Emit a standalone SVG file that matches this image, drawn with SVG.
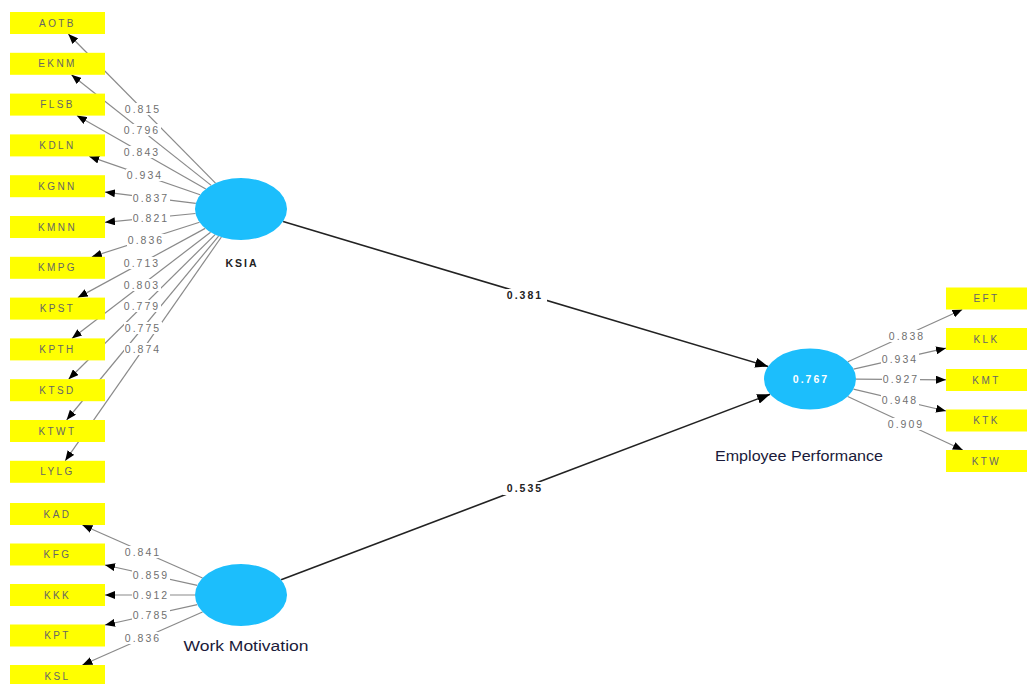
<svg xmlns="http://www.w3.org/2000/svg" width="1029" height="684" viewBox="0 0 1029 684">
  <style>
    .ind rect { fill: #ffff00; }
    .ind text { font-family: "Liberation Sans", Arial, sans-serif; font-size: 10px; letter-spacing: 2.4px; fill: #666; text-anchor: middle; dominant-baseline: central; }
    .lv ellipse { fill: #1cbefc; }
    .lvname { font-family: "Liberation Sans", Arial, sans-serif; font-size: 14px; fill: #1a1a3a; text-anchor: middle; }
    .lvshort { font-family: "Liberation Sans", Arial, sans-serif; font-size: 10.5px; font-weight: bold; letter-spacing: 2px; fill: #222; text-anchor: middle; }
    .r2 { font-family: "Liberation Sans", Arial, sans-serif; font-size: 10.5px; font-weight: bold; letter-spacing: 2px; fill: #fff; text-anchor: middle; dominant-baseline: central; }
    .load line { stroke: #8a8a8a; stroke-width: 1.2; marker-end: url(#ah); }
    .path line { stroke: #222; stroke-width: 1.6; marker-end: url(#ahb); }
    .lbl rect { fill: #fff; }
    .lbl text { font-family: "Liberation Sans", Arial, sans-serif; font-size: 10.5px; letter-spacing: 2px; fill: #707070; text-anchor: middle; dominant-baseline: central; }
    .plbl text { font-family: "Liberation Sans", Arial, sans-serif; font-size: 10.5px; font-weight: bold; letter-spacing: 2px; fill: #222; text-anchor: middle; dominant-baseline: central; }
    .plbl rect { fill: #fff; }
  </style>
  <defs>
    <marker id="ah" markerUnits="userSpaceOnUse" markerWidth="10" markerHeight="8" refX="10" refY="4" orient="auto">
      <path d="M0,0 L10,4 L0,8 z" fill="#000"/>
    </marker>
    <marker id="ahb" markerUnits="userSpaceOnUse" markerWidth="13" markerHeight="10" refX="13" refY="5" orient="auto">
      <path d="M0,0 L13,5 L0,10 z" fill="#000"/>
    </marker>
  </defs>
  <rect width="1029" height="684" fill="#fff"/>

  <!-- connectors -->
  <g id="connectors">
    <g class="load">
      <line x1="215.5" y1="183.2" x2="68.3" y2="34"/>
      <line x1="211.2" y1="185.4" x2="71.4" y2="74.8"/>
      <line x1="205.8" y1="189" x2="76.8" y2="115.6"/>
      <line x1="200.1" y1="194.8" x2="89.2" y2="156.4"/>
      <line x1="195.8" y1="203.4" x2="105" y2="192.1"/>
      <line x1="195.5" y1="213.5" x2="105" y2="222.3"/>
      <line x1="199.5" y1="222.3" x2="91.8" y2="256.8"/>
      <line x1="205.2" y1="228.4" x2="77.8" y2="297.6"/>
      <line x1="210.6" y1="232.3" x2="71.9" y2="338.4"/>
      <line x1="215.1" y1="234.6" x2="68.6" y2="379.2"/>
      <line x1="218.6" y1="236.1" x2="66.6" y2="420"/>
      <line x1="221.4" y1="237" x2="65.2" y2="460.8"/>

      <line x1="202.5" y1="578" x2="82.4" y2="525"/>
      <line x1="197.3" y1="585.3" x2="105" y2="565"/>
      <line x1="195" y1="595" x2="105" y2="595"/>
      <line x1="197.3" y1="604.7" x2="105" y2="625"/>
      <line x1="202.5" y1="612" x2="82.4" y2="665"/>

      <line x1="847.9" y1="361.7" x2="962.4" y2="309.5"/>
      <line x1="853.5" y1="369.1" x2="946" y2="348.2"/>
      <line x1="856" y1="379.2" x2="946" y2="379.8"/>
      <line x1="853.4" y1="389.2" x2="946" y2="411"/>
      <line x1="847.7" y1="396.5" x2="962.8" y2="450"/>
    </g>
    <g class="path">
      <line x1="283.1" y1="221.6" x2="768.1" y2="366.5"/>
      <line x1="281.1" y1="579.8" x2="770.1" y2="394.2"/>
    </g>

    <!-- outer loadings -->
    <g class="lbl">
      <rect x="124" y="103" width="38" height="12"/><text x="143" y="109">0.815</text>
      <rect x="123" y="124" width="38" height="12"/><text x="142" y="130">0.796</text>
      <rect x="123" y="146" width="38" height="12"/><text x="142" y="152">0.843</text>
      <rect x="126" y="169" width="38" height="12"/><text x="145" y="175">0.934</text>
      <rect x="132" y="192" width="38" height="12"/><text x="151" y="198">0.837</text>
      <rect x="132" y="212" width="38" height="12"/><text x="151" y="218">0.821</text>
      <rect x="127" y="234" width="38" height="12"/><text x="146" y="240">0.836</text>
      <rect x="123" y="257" width="38" height="12"/><text x="142" y="263">0.713</text>
      <rect x="123" y="279" width="38" height="12"/><text x="142" y="285">0.803</text>
      <rect x="123" y="300" width="38" height="12"/><text x="142" y="306">0.779</text>
      <rect x="124" y="322" width="38" height="12"/><text x="143" y="328">0.775</text>
      <rect x="124" y="343" width="38" height="12"/><text x="143" y="349">0.874</text>

      <rect x="124" y="546" width="38" height="12"/><text x="143" y="552">0.841</text>
      <rect x="132" y="569" width="38" height="12"/><text x="151" y="575">0.859</text>
      <rect x="132" y="589" width="38" height="12"/><text x="151" y="595">0.912</text>
      <rect x="132" y="609" width="38" height="12"/><text x="151" y="615">0.785</text>
      <rect x="124" y="632" width="38" height="12"/><text x="143" y="638">0.836</text>

      <rect x="888" y="330" width="38" height="12"/><text x="907" y="336">0.838</text>
      <rect x="881" y="353" width="38" height="12"/><text x="900" y="359">0.934</text>
      <rect x="882" y="373" width="38" height="12"/><text x="901" y="379">0.927</text>
      <rect x="881" y="394" width="38" height="12"/><text x="900" y="400">0.948</text>
      <rect x="887" y="418" width="38" height="12"/><text x="906" y="424">0.909</text>
    </g>
    <!-- path coefficients -->
    <g class="plbl">
      <rect x="503" y="289" width="44" height="13"/><text x="525" y="295">0.381</text>
      <rect x="503" y="482" width="44" height="13"/><text x="525" y="488">0.535</text>
    </g>
  </g>

  <!-- latent variables -->
  <g id="ksia" class="lv">
    <ellipse cx="241" cy="209" rx="46" ry="31"/>
    <text class="lvshort" x="242" y="267">KSIA</text>
  </g>
  <g id="work-motivation" class="lv">
    <ellipse cx="241" cy="595" rx="46" ry="31"/>
    <text class="lvname" x="246" y="651" textLength="125" lengthAdjust="spacingAndGlyphs">Work Motivation</text>
  </g>
  <g id="employee-performance" class="lv">
    <ellipse cx="810" cy="379" rx="46" ry="30.5"/>
    <text class="r2" x="811" y="379">0.767</text>
    <text class="lvname" x="799" y="461" textLength="168" lengthAdjust="spacingAndGlyphs">Employee Performance</text>
  </g>

  <!-- KSIA indicators -->
  <g id="AOTB" class="ind"><rect x="10" y="12" width="95" height="22"/><text x="57.5" y="23">AOTB</text></g>
  <g id="EKNM" class="ind"><rect x="10" y="52.8" width="95" height="22"/><text x="57.5" y="63.8">EKNM</text></g>
  <g id="FLSB" class="ind"><rect x="10" y="93.6" width="95" height="22"/><text x="57.5" y="104.6">FLSB</text></g>
  <g id="KDLN" class="ind"><rect x="10" y="134.4" width="95" height="22"/><text x="57.5" y="145.4">KDLN</text></g>
  <g id="KGNN" class="ind"><rect x="10" y="175.2" width="95" height="22"/><text x="57.5" y="186.2">KGNN</text></g>
  <g id="KMNN" class="ind"><rect x="10" y="216" width="95" height="22"/><text x="57.5" y="227">KMNN</text></g>
  <g id="KMPG" class="ind"><rect x="10" y="256.8" width="95" height="22"/><text x="57.5" y="267.8">KMPG</text></g>
  <g id="KPST" class="ind"><rect x="10" y="297.6" width="95" height="22"/><text x="57.5" y="308.6">KPST</text></g>
  <g id="KPTH" class="ind"><rect x="10" y="338.4" width="95" height="22"/><text x="57.5" y="349.4">KPTH</text></g>
  <g id="KTSD" class="ind"><rect x="10" y="379.2" width="95" height="22"/><text x="57.5" y="390.2">KTSD</text></g>
  <g id="KTWT" class="ind"><rect x="10" y="420" width="95" height="22"/><text x="57.5" y="431">KTWT</text></g>
  <g id="LYLG" class="ind"><rect x="10" y="460.8" width="95" height="22"/><text x="57.5" y="471.8">LYLG</text></g>

  <!-- Work Motivation indicators -->
  <g id="KAD" class="ind"><rect x="10" y="503" width="95" height="22"/><text x="57.5" y="514">KAD</text></g>
  <g id="KFG" class="ind"><rect x="10" y="543.5" width="95" height="22"/><text x="57.5" y="554.5">KFG</text></g>
  <g id="KKK" class="ind"><rect x="10" y="584" width="95" height="22"/><text x="57.5" y="595">KKK</text></g>
  <g id="KPT" class="ind"><rect x="10" y="624.5" width="95" height="22"/><text x="57.5" y="635.5">KPT</text></g>
  <g id="KSL" class="ind"><rect x="10" y="665" width="95" height="22"/><text x="57.5" y="676">KSL</text></g>

  <!-- Employee Performance indicators -->
  <g id="EFT" class="ind"><rect x="946" y="287.5" width="81" height="22"/><text x="986.5" y="298.5">EFT</text></g>
  <g id="KLK" class="ind"><rect x="946" y="328" width="81" height="22"/><text x="986.5" y="339">KLK</text></g>
  <g id="KMT" class="ind"><rect x="946" y="369" width="81" height="22"/><text x="986.5" y="380">KMT</text></g>
  <g id="KTK" class="ind"><rect x="946" y="409.5" width="81" height="22"/><text x="986.5" y="420.5">KTK</text></g>
  <g id="KTW" class="ind"><rect x="946" y="450" width="81" height="22"/><text x="986.5" y="461">KTW</text></g>
</svg>
